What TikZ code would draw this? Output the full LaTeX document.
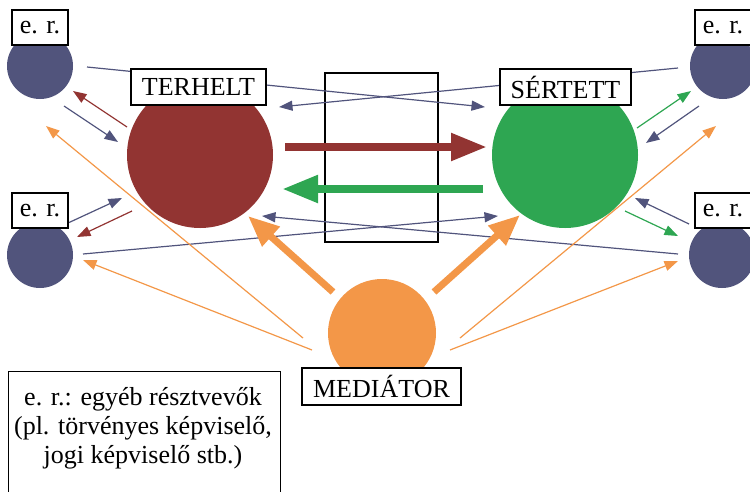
\documentclass[tikz,border=0pt]{standalone}
\usepackage{fontspec}
\setmainfont{Liberation Serif}
\usetikzlibrary{arrows.meta}
\definecolor{erblue}{RGB}{81,84,124}
\definecolor{terred}{RGB}{146,52,50}
\definecolor{sergreen}{RGB}{46,166,82}
\definecolor{medorange}{RGB}{243,151,72}
\begin{document}
\begin{tikzpicture}[x=1pt,y=-1pt,
  party/.style={circle, inner sep=0pt, minimum size=#1},
  lab/.style={draw=black, line width=1.2pt, fill=white, inner sep=0pt, font=\fontsize{26}{29}\selectfont},
  tharrow/.style={line width=1.2pt, -{Triangle[length=13.5pt,width=10pt]}},
  thickarrow/.style={line width=8pt, -{Triangle[length=36pt,width=26pt]}},
  medarrow/.style={line width=7pt, medorange, -{Triangle[length=31pt,width=25pt]}}
  ]
\useasboundingbox (0,0) rectangle (750,491);
\clip (0,0) rectangle (750,491);
% parties
\node[party=66pt, fill=erblue] (er1) at (40,66) {};
\node[party=66pt, fill=erblue] (er2) at (40,255) {};
\node[party=66pt, fill=erblue] (er3) at (723,66) {};
\node[party=66pt, fill=erblue] (er4) at (722,255) {};
\node[party=146pt, fill=terred] (ter) at (200,155) {};
\node[party=146pt, fill=sergreen] (ser) at (565,155) {};
\node[party=108pt, fill=medorange] (med) at (382,333) {};
\node[draw, line width=2.5pt, minimum width=113pt, minimum height=169pt, inner sep=0pt] (room) at (381.5,157.5) {};
% coordinates
\coordinate (p1) at (87,67);   \coordinate (q1) at (485,107);
\coordinate (p2) at (678,68);  \coordinate (q2) at (279,107);
\coordinate (p3) at (83,254);  \coordinate (q3) at (498,216);
\coordinate (p4) at (678,254); \coordinate (q4) at (262,216);
\coordinate (b1s) at (64,106);  \coordinate (b1e) at (118,142);
\coordinate (r1s) at (127,127); \coordinate (r1e) at (73,91);
\coordinate (b2s) at (68,223);  \coordinate (b2e) at (122,198);
\coordinate (r2s) at (132,211); \coordinate (r2e) at (77,237);
\coordinate (g1s) at (637,128); \coordinate (g1e) at (691,91);
\coordinate (b3s) at (699,106); \coordinate (b3e) at (646,143);
\coordinate (b4s) at (689,224); \coordinate (b4e) at (635,198);
\coordinate (g2s) at (625,211); \coordinate (g2e) at (678,236);
\coordinate (o1s) at (303,338); \coordinate (o1e) at (46,126);
\coordinate (o2s) at (312,350); \coordinate (o2e) at (83,260);
\coordinate (o3s) at (460,338); \coordinate (o3e) at (716,126);
\coordinate (o4s) at (450,350); \coordinate (o4e) at (678,261);
\coordinate (rs) at (285,147); \coordinate (re) at (487,147);
\coordinate (gs) at (483,189); \coordinate (ge) at (282,189);
\coordinate (m1s) at (333,292); \coordinate (m1e) at (248,216);
\coordinate (m2s) at (434,292); \coordinate (m2e) at (520,215);
% long crossing lines
\draw[tharrow, erblue] (p1) -- (q1);
\draw[tharrow, erblue] (p2) -- (q2);
\draw[tharrow, erblue] (p3) -- (q3);
\draw[tharrow, erblue] (p4) -- (q4);
% short arrows
\draw[tharrow, erblue] (b1s) -- (b1e);
\draw[tharrow, terred] (r1s) -- (r1e);
\draw[tharrow, erblue] (b2s) -- (b2e);
\draw[tharrow, terred] (r2s) -- (r2e);
\draw[tharrow, sergreen] (g1s) -- (g1e);
\draw[tharrow, erblue] (b3s) -- (b3e);
\draw[tharrow, erblue] (b4s) -- (b4e);
\draw[tharrow, sergreen] (g2s) -- (g2e);
% mediator thin arrows
\draw[tharrow, medorange] (o1s) -- (o1e);
\draw[tharrow, medorange] (o2s) -- (o2e);
\draw[tharrow, medorange] (o3s) -- (o3e);
\draw[tharrow, medorange] (o4s) -- (o4e);
% thick arrows
\draw[thickarrow, terred] (rs) -- (re);
\draw[thickarrow, sergreen] (gs) -- (ge);
\draw[medarrow] (m1s) -- (m1e);
\draw[medarrow] (m2s) -- (m2e);
% labels
\node[lab, minimum width=56pt, minimum height=35pt] (l1) at (40,27.5) {e. r.};
\node[lab, minimum width=56pt, minimum height=35pt] (l2) at (40,210.5) {e. r.};
\node[lab, minimum width=56pt, minimum height=35pt] (l3) at (723,27.5) {e. r.};
\node[lab, minimum width=56pt, minimum height=35pt] (l4) at (723,210.5) {e. r.};
\node[lab, minimum width=135pt, minimum height=36pt] (terlab) at (198.5,87) {TERHELT};
\node[lab, minimum width=131pt, minimum height=36pt] (serlab) at (565.5,87) {SÉRTETT};
\node[lab, minimum width=159pt, minimum height=37pt] (medlab) at (381.5,386.5) {MEDIÁTOR};
% legend
\node[draw, line width=1.2pt, minimum width=272pt, minimum height=140pt, anchor=north west, inner sep=0pt] (legbox) at (8,371) {};
\node[align=center, font=\fontsize{26}{29}\selectfont, inner sep=0pt] (legtext) at (143,428) {e. r.: egyéb résztvevők\\(pl. törvényes képviselő,\\jogi képviselő stb.)};
\end{tikzpicture}
\end{document}
